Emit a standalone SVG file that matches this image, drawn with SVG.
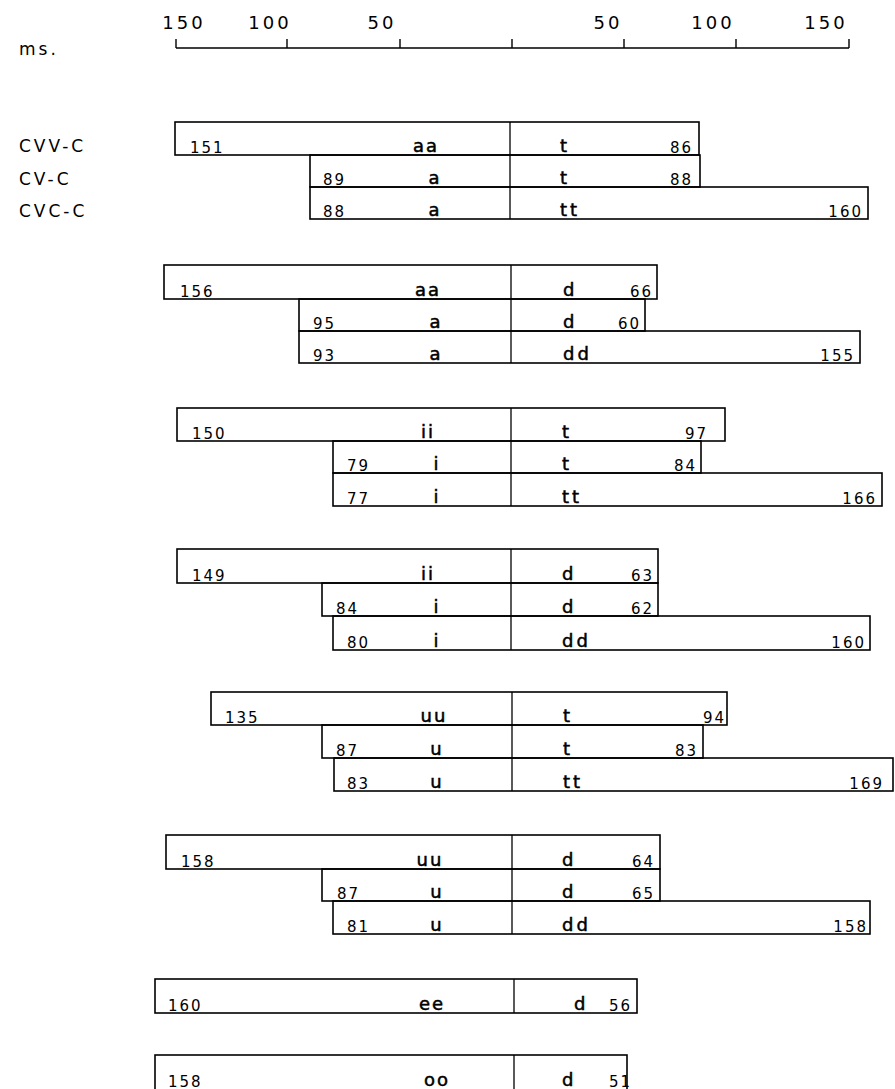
<svg xmlns="http://www.w3.org/2000/svg" width="895" height="1089" viewBox="0 0 895 1089">
<style>
  .bg{fill:#fff}
  .box{fill:none;stroke:#000;stroke-width:1.6}
  .div{stroke:#000;stroke-width:1.3}
  .ax{stroke:#000;stroke-width:1.4;fill:none}
  .n{font-family:"DejaVu Sans",sans-serif;font-size:15px;letter-spacing:2px;fill:#000}
  .ne{font-family:"DejaVu Sans",sans-serif;font-size:15px;letter-spacing:2px;fill:#000;text-anchor:end}
  .v{font-family:"DejaVu Sans",sans-serif;font-size:18px;letter-spacing:2px;fill:#000;stroke:#000;stroke-width:0.5;text-anchor:middle}
  .c{font-family:"DejaVu Sans",sans-serif;font-size:18px;letter-spacing:3px;fill:#000;stroke:#000;stroke-width:0.5}
  .tl{font-family:"DejaVu Sans",sans-serif;font-size:18px;letter-spacing:3px;fill:#000;text-anchor:middle}
  .rl{font-family:"DejaVu Sans",sans-serif;font-size:17px;letter-spacing:3px;fill:#000}
</style>
<rect class="bg" x="0" y="0" width="895" height="1089"/>

<g id="axis">
  <path class="ax" d="M176 48 H849 M176 39 V48 M287 39 V48 M400 39 V48 M512 39 V48 M624 39 V48 M736 39 V48 M849 39 V48"/>
  <text class="tl" x="184" y="29">150</text>
  <text class="tl" x="270" y="29">100</text>
  <text class="tl" x="382" y="29">50</text>
  <text class="tl" x="608" y="29">50</text>
  <text class="tl" x="713" y="29">100</text>
  <text class="tl" x="826" y="29">150</text>
  <text class="rl" x="19" y="55">ms.</text>
</g>

<g id="row-labels">
  <text class="rl" x="19" y="152">CVV-C</text>
  <text class="rl" x="19" y="185">CV-C</text>
  <text class="rl" x="19" y="217">CVC-C</text>
</g>

<g id="block1">
  <g id="b1r1"><rect class="box" x="175" y="122" width="524" height="33"/>
    <text class="n" x="190" y="153">151</text><text class="v" x="426" y="152">aa</text><text class="c" x="560" y="152">t</text><text class="ne" x="693" y="153">86</text></g>
  <g id="b1r2"><rect class="box" x="310" y="155" width="390" height="32"/>
    <text class="n" x="323" y="185">89</text><text class="v" x="435" y="184">a</text><text class="c" x="560" y="184">t</text><text class="ne" x="693" y="185">88</text></g>
  <g id="b1r3"><rect class="box" x="310" y="187" width="558" height="32"/>
    <text class="n" x="323" y="217">88</text><text class="v" x="435" y="216">a</text><text class="c" x="560" y="216">tt</text><text class="ne" x="863" y="217">160</text></g>
  <line class="div" x1="510" y1="122" x2="510" y2="219"/>
</g>

<g id="block2">
  <g id="b2r1"><rect class="box" x="164" y="265" width="493" height="34"/>
    <text class="n" x="180" y="297">156</text><text class="v" x="428" y="296">aa</text><text class="c" x="563" y="296">d</text><text class="ne" x="653" y="297">66</text></g>
  <g id="b2r2"><rect class="box" x="299" y="299" width="346" height="32"/>
    <text class="n" x="313" y="329">95</text><text class="v" x="436" y="328">a</text><text class="c" x="563" y="328">d</text><text class="ne" x="641" y="329">60</text></g>
  <g id="b2r3"><rect class="box" x="299" y="331" width="561" height="32"/>
    <text class="n" x="313" y="361">93</text><text class="v" x="436" y="360">a</text><text class="c" x="563" y="360">dd</text><text class="ne" x="855" y="361">155</text></g>
  <line class="div" x1="511" y1="265" x2="511" y2="363"/>
</g>

<g id="block3">
  <g id="b3r1"><rect class="box" x="177" y="408" width="548" height="33"/>
    <text class="n" x="192" y="439">150</text><text class="v" x="428" y="438">ii</text><text class="c" x="562" y="438">t</text><text class="ne" x="708" y="439">97</text></g>
  <g id="b3r2"><rect class="box" x="333" y="441" width="368" height="32"/>
    <text class="n" x="347" y="471">79</text><text class="v" x="437" y="470">i</text><text class="c" x="562" y="470">t</text><text class="ne" x="697" y="471">84</text></g>
  <g id="b3r3"><rect class="box" x="333" y="473" width="549" height="33"/>
    <text class="n" x="347" y="504">77</text><text class="v" x="437" y="503">i</text><text class="c" x="562" y="503">tt</text><text class="ne" x="877" y="504">166</text></g>
  <line class="div" x1="511" y1="408" x2="511" y2="506"/>
</g>

<g id="block4">
  <g id="b4r1"><rect class="box" x="177" y="549" width="481" height="34"/>
    <text class="n" x="192" y="581">149</text><text class="v" x="428" y="580">ii</text><text class="c" x="562" y="580">d</text><text class="ne" x="654" y="581">63</text></g>
  <g id="b4r2"><rect class="box" x="322" y="583" width="336" height="33"/>
    <text class="n" x="336" y="614">84</text><text class="v" x="437" y="613">i</text><text class="c" x="562" y="613">d</text><text class="ne" x="654" y="614">62</text></g>
  <g id="b4r3"><rect class="box" x="333" y="616" width="537" height="34"/>
    <text class="n" x="347" y="648">80</text><text class="v" x="437" y="647">i</text><text class="c" x="562" y="647">dd</text><text class="ne" x="866" y="648">160</text></g>
  <line class="div" x1="511" y1="549" x2="511" y2="650"/>
</g>

<g id="block5">
  <g id="b5r1"><rect class="box" x="211" y="692" width="516" height="33"/>
    <text class="n" x="225" y="723">135</text><text class="v" x="434" y="722">uu</text><text class="c" x="563" y="722">t</text><text class="ne" x="726" y="723">94</text></g>
  <g id="b5r2"><rect class="box" x="322" y="725" width="381" height="33"/>
    <text class="n" x="336" y="756">87</text><text class="v" x="437" y="755">u</text><text class="c" x="563" y="755">t</text><text class="ne" x="698" y="756">83</text></g>
  <g id="b5r3"><rect class="box" x="334" y="758" width="559" height="33"/>
    <text class="n" x="347" y="789">83</text><text class="v" x="437" y="788">u</text><text class="c" x="563" y="788">tt</text><text class="ne" x="884" y="789">169</text></g>
  <line class="div" x1="512" y1="692" x2="512" y2="791"/>
</g>

<g id="block6">
  <g id="b6r1"><rect class="box" x="166" y="835" width="494" height="34"/>
    <text class="n" x="181" y="867">158</text><text class="v" x="430" y="866">uu</text><text class="c" x="562" y="866">d</text><text class="ne" x="655" y="867">64</text></g>
  <g id="b6r2"><rect class="box" x="322" y="869" width="338" height="32"/>
    <text class="n" x="337" y="899">87</text><text class="v" x="437" y="898">u</text><text class="c" x="562" y="898">d</text><text class="ne" x="655" y="899">65</text></g>
  <g id="b6r3"><rect class="box" x="333" y="901" width="537" height="33"/>
    <text class="n" x="347" y="932">81</text><text class="v" x="437" y="931">u</text><text class="c" x="562" y="931">dd</text><text class="ne" x="868" y="932">158</text></g>
  <line class="div" x1="512" y1="835" x2="512" y2="934"/>
</g>

<g id="block7">
  <rect class="box" x="155" y="979" width="482" height="34"/>
  <line class="div" x1="514" y1="979" x2="514" y2="1013"/>
  <text class="n" x="168" y="1011">160</text><text class="v" x="432" y="1010">ee</text><text class="c" x="574" y="1010">d</text><text class="ne" x="632" y="1011">56</text>
</g>

<g id="block8">
  <rect class="box" x="155" y="1055" width="472" height="36"/>
  <line class="div" x1="514" y1="1055" x2="514" y2="1091"/>
  <text class="n" x="168" y="1087">158</text><text class="v" x="437" y="1086">oo</text><text class="c" x="562" y="1086">d</text><text class="ne" x="632" y="1087">51</text>
</g>
</svg>
